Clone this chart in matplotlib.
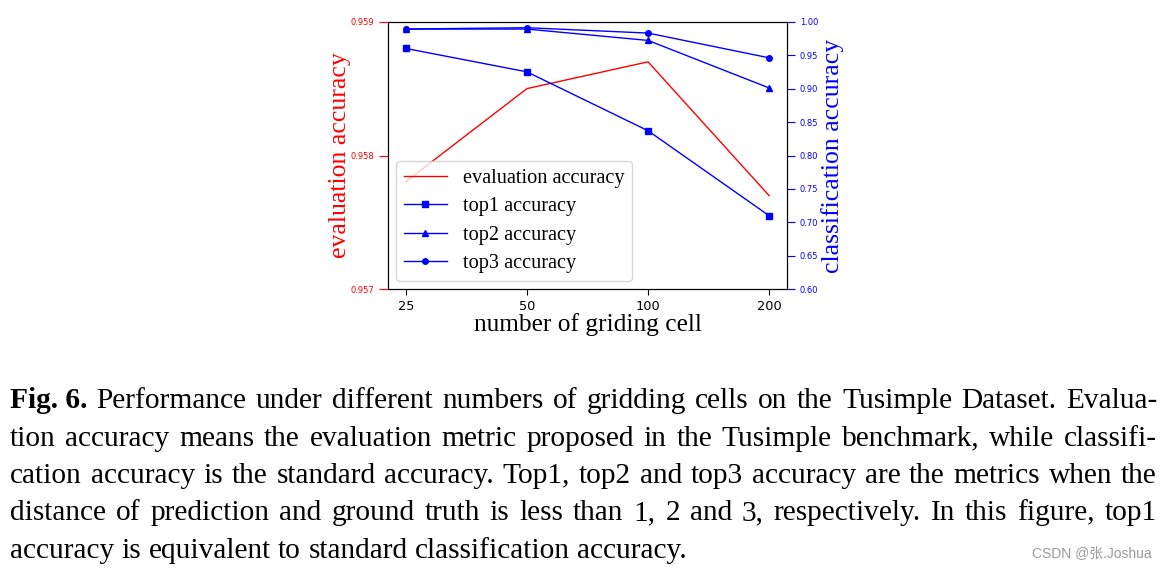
import matplotlib
matplotlib.use("Agg")
import matplotlib.pyplot as plt
import numpy as np

# values
cells = ["25", "50", "100", "200"]
eval_acc = [0.957805, 0.958500, 0.958700, 0.957700]
top1_acc = [0.960, 0.925, 0.837, 0.710]
top2_acc = [0.989, 0.989, 0.972, 0.901]
top3_acc = [0.989, 0.991, 0.983, 0.946]

caption_lines = [
    "Performance under different numbers of gridding cells on the Tusimple Dataset. Evalua-",
    "tion accuracy means the evaluation metric proposed in the Tusimple benchmark, while classifi-",
    "cation accuracy is the standard accuracy. Top1, top2 and top3 accuracy are the metrics when the",
    "distance of prediction and ground truth is less than 1, 2 and 3, respectively. In this figure, top1",
    "accuracy is equivalent to standard classification accuracy.",
]

W, H = 1166, 571
SERIF = "Liberation Serif"

fig = plt.figure(figsize=(W / 100, H / 100), dpi=100)
ax = fig.add_axes([387.7 / W, 1 - 289.3 / H, 399.6 / W, 267.6 / H])
ax2 = ax.twinx()

x = np.arange(len(cells))
l0, = ax.plot(x, eval_acc, color="red", lw=1.0, label="evaluation accuracy")
l1, = ax2.plot(x, top1_acc, color="blue", lw=1.0, marker="s", ms=4, label="top1 accuracy")
l2, = ax2.plot(x, top2_acc, color="blue", lw=1.0, marker="^", ms=4, label="top2 accuracy")
l3, = ax2.plot(x, top3_acc, color="blue", lw=1.0, marker="o", ms=4, label="top3 accuracy")

ax.set_ylim(0.957, 0.959)
ax.set_yticks([0.957, 0.958, 0.959])
ax.set_yticklabels(["0.957", "0.958", "0.959"])
ax2.set_ylim(0.6, 1.0)
ax2.set_yticks(np.arange(0.6, 1.001, 0.05))
ax2.set_yticklabels([f"{v:.2f}" for v in np.arange(0.6, 1.001, 0.05)])

ax.set_xticks(x)
ax.set_xticklabels(cells)
ax.tick_params(axis="x", labelsize=9.3, length=4, colors="black")
ax.tick_params(axis="y", labelsize=6, length=6.5, colors="red")
ax2.tick_params(axis="y", labelsize=6, length=5.5, colors="blue")

ax.set_xlabel("number of griding cell", family=SERIF, fontsize=18.3, labelpad=0)
ax.set_ylabel("evaluation accuracy", family=SERIF, fontsize=18.5, color="red", labelpad=-0.5)
ax2.set_ylabel("classification accuracy", family=SERIF, fontsize=18.5, color="blue", labelpad=2)

ax2.legend(handles=[l0, l1, l2, l3], loc="lower left", prop={"family": SERIF, "size": 14.6},
           handlelength=2.1, borderaxespad=0.4, labelspacing=0.45)

# caption, justified line by line
fs = 21.2
left_px, right_px = 10, 1157
baselines = [408, 445.5, 483, 520.5, 558]
renderer = fig.canvas.get_renderer()
for i, line in enumerate(caption_lines):
    words = line.split(" ")
    tokens = [(w, "normal") for w in words]
    if i == 0:
        tokens = [("Fig. 6.", "bold")] + tokens
    texts = [fig.text(0, 1 - baselines[i] / H, w, family=SERIF, fontsize=fs, weight=wt,
                      va="baseline", ha="left") for w, wt in tokens]
    widths = [t.get_window_extent(renderer).width for t in texts]
    if i < len(caption_lines) - 1:
        gap = (right_px - left_px - sum(widths)) / (len(texts) - 1)
    else:
        sp = fig.text(0, 0, "a a", family=SERIF, fontsize=fs)
        sp2 = fig.text(0, 0, "aa", family=SERIF, fontsize=fs)
        gap = sp.get_window_extent(renderer).width - sp2.get_window_extent(renderer).width
        sp.remove()
        sp2.remove()
    xp = left_px
    for t, w in zip(texts, widths):
        t.set_x(xp / W)
        xp += w + gap

fig.text(1152 / W, 1 - 553 / H, "CSDN @张.Joshua", family=["Liberation Sans", "Noto Sans CJK SC"],
         fontsize=10, color="#9a9a9a", ha="right", va="center")

fig.savefig("out.png", dpi=100)
